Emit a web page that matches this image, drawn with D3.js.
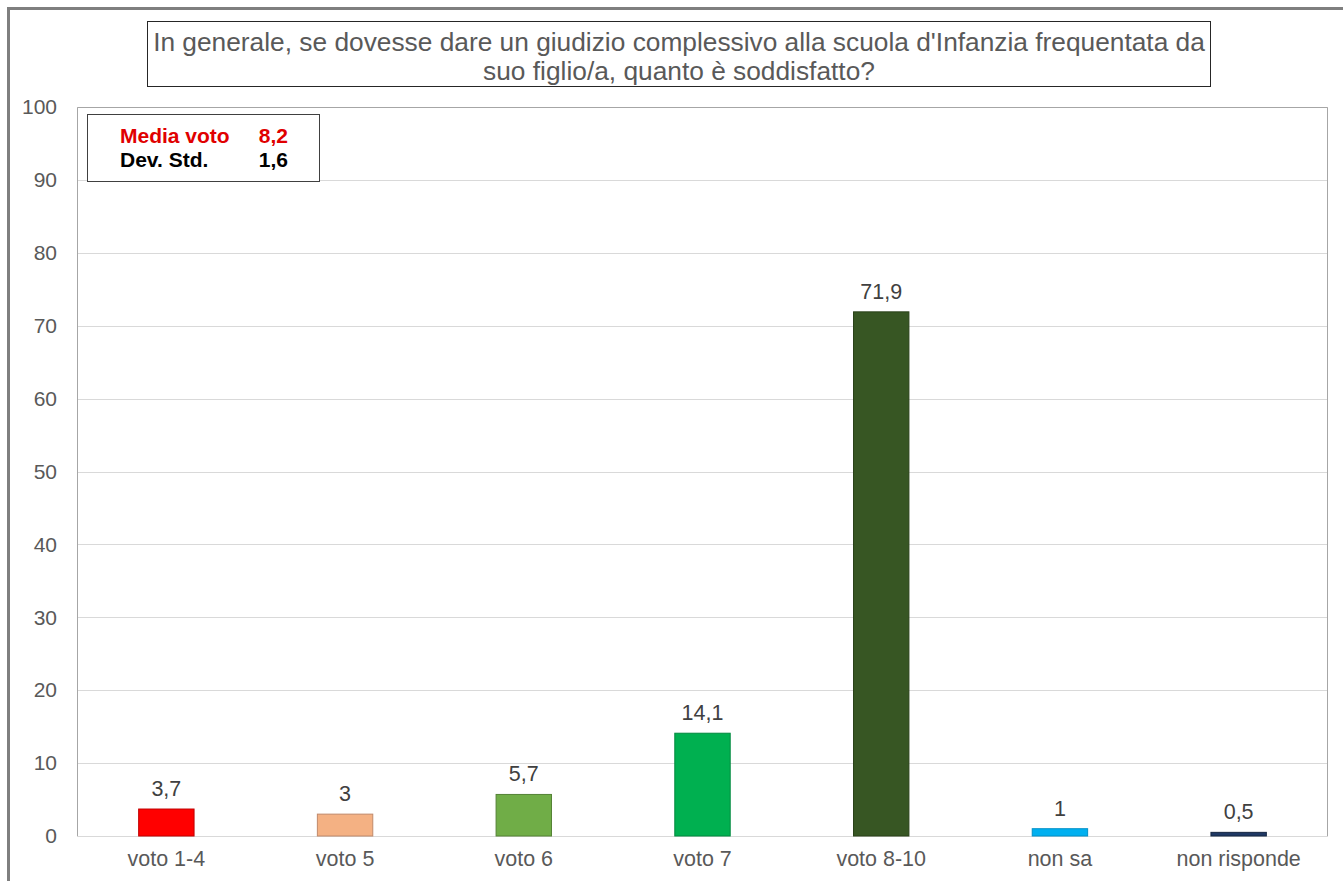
<!DOCTYPE html>
<html>
<head>
<meta charset="utf-8">
<script src="https://cdn.jsdelivr.net/npm/d3@7"></script>
<style>
  body { margin: 0; background: #fff; }
  svg { font-family: 'Liberation Sans', Arial, sans-serif; }
</style>
</head>
<body>
<script>
var width  = 1343
var height = 881
var margin = { top: 107, right: 15, bottom: 45, left: 77 }

var categories = ['voto 1-4', 'voto 5', 'voto 6', 'voto 7', 'voto 8-10', 'non sa', 'non risponde']
var values     = [3.7, 3, 5.7, 14.1, 71.9, 1, 0.5]
var valueLabels = ['3,7', '3', '5,7', '14,1', '71,9', '1', '0,5']
var barColors  = ['#ff0000', '#f4b183', '#70ad47', '#00b050', '#375623', '#00b0f0', '#1f3864']
var barStrokes = ['#c00000', '#c0896a', '#548235', '#00893e', '#2a4119', '#0090c8', '#142642']
var yTicks     = [0, 10, 20, 30, 40, 50, 60, 70, 80, 90, 100]
var titleLines = ["In generale, se dovesse dare un giudizio complessivo alla scuola d'Infanzia frequentata da",
                  "suo figlio/a, quanto è soddisfatto?"]
var statLabels = ['Media voto', 'Dev. Std.']
var statValues = ['8,2', '1,6']

var svg = d3.select('body')
  .append('svg')
  .attr('width', width)
  .attr('height', height)

// outer frame (cropped at right / bottom)
svg.append('rect')
  .attr('x', 8.5).attr('y', 8.5)
  .attr('width', width + 20).attr('height', height + 20)
  .attr('fill', 'none')
  .attr('stroke', '#7f7f7f')
  .attr('stroke-width', 3)

var xScale = d3.scaleBand()
  .domain(categories)
  .range([margin.left, width - margin.right])
  .paddingInner(0.69)
  .paddingOuter(0.345)

var yScale = d3.scaleLinear()
  .domain([0, 100])
  .range([height - margin.bottom, margin.top])

// gridlines
svg.append('g')
  .selectAll('line')
  .data(yTicks)
  .enter()
  .append('line')
  .attr('x1', margin.left)
  .attr('x2', width - margin.right)
  .attr('y1', d => Math.round(yScale(d)) + 0.5)
  .attr('y2', d => Math.round(yScale(d)) + 0.5)
  .attr('stroke', '#d9d9d9')
  .attr('stroke-width', 1)

// plot frame (left, top, right)
svg.append('path')
  .attr('d', 'M' + (margin.left + 0.5) + ',' + yScale(0) +
             'V' + (yScale(100) + 0.5) +
             'H' + (width - margin.right - 0.5) +
             'V' + yScale(0))
  .attr('fill', 'none')
  .attr('stroke', '#a6a6a6')

var yAxis = d3.axisLeft(yScale)
  .tickValues(yTicks)
  .tickSize(0)
  .tickPadding(20)

var gy = svg.append('g')
  .attr('transform', 'translate(' + [margin.left, 0] + ')')
  .call(yAxis)
gy.select('.domain').remove()
gy.selectAll('text')
  .attr('fill', '#595959')
  .style('font-size', '21px')

var xAxis = d3.axisBottom(xScale)
  .tickSize(0)
  .tickPadding(15)

var gx = svg.append('g')
  .attr('transform', 'translate(' + [0, yScale(0)] + ')')
  .call(xAxis)
gx.select('.domain').remove()
gx.selectAll('text')
  .attr('fill', '#595959')
  .style('font-size', '21.5px')

// bars
svg.selectAll('rect.bar')
  .data(values)
  .enter()
  .append('rect')
  .attr('class', 'bar')
  .attr('x', (d, i) => xScale(categories[i]))
  .attr('width', xScale.bandwidth())
  .attr('y', d => yScale(d))
  .attr('height', d => yScale(0) - yScale(d))
  .attr('fill', (d, i) => barColors[i])
  .attr('stroke', (d, i) => barStrokes[i])
  .attr('stroke-width', 1)

// value labels
svg.selectAll('text.val')
  .data(values)
  .enter()
  .append('text')
  .attr('class', 'val')
  .attr('x', (d, i) => xScale(categories[i]) + xScale.bandwidth() / 2)
  .attr('y', d => yScale(d) - 13)
  .attr('text-anchor', 'middle')
  .attr('fill', '#404040')
  .style('font-size', '21.5px')
  .text((d, i) => valueLabels[i])

// title box
svg.append('rect')
  .attr('x', 147.5).attr('y', 21.5)
  .attr('width', 1063).attr('height', 65)
  .attr('fill', '#fff')
  .attr('stroke', '#262626')

svg.selectAll('text.title')
  .data(titleLines)
  .enter()
  .append('text')
  .attr('class', 'title')
  .attr('x', 679)
  .attr('y', (d, i) => 51 + i * 29)
  .attr('text-anchor', 'middle')
  .attr('fill', '#595959')
  .style('font-size', '26.3px')
  .text(d => d)

// stats box
svg.append('rect')
  .attr('x', 87.5).attr('y', 114.5)
  .attr('width', 232).attr('height', 67)
  .attr('fill', '#fff')
  .attr('stroke', '#404040')

var statColors = ['#e00000', '#000000']
statLabels.forEach((s, i) => {
  svg.append('text')
    .attr('x', 120)
    .attr('y', 143 + i * 24)
    .attr('fill', statColors[i])
    .style('font-size', '21px')
    .style('font-weight', 'bold')
    .text(s)
  svg.append('text')
    .attr('x', 288)
    .attr('y', 143 + i * 24)
    .attr('text-anchor', 'end')
    .attr('fill', statColors[i])
    .style('font-size', '21px')
    .style('font-weight', 'bold')
    .text(statValues[i])
})
</script>
</body>
</html>
